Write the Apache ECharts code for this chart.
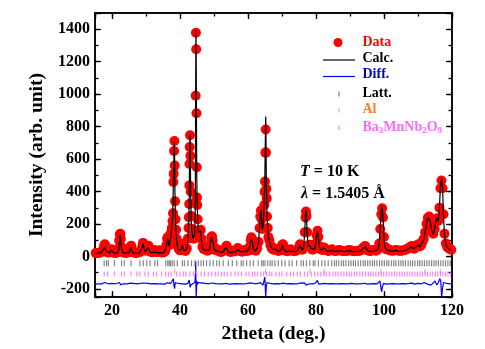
<!DOCTYPE html>
<html>
<head>
<meta charset="utf-8">
<script src="https://cdn.jsdelivr.net/npm/echarts@6/dist/echarts.min.js"></script>
<style>html,body{margin:0;padding:0;background:#fff}#c{width:485px;height:349px}</style>
</head>
<body>
<div id="c"></div>
<script>
// ---- data ----
const obsData = [[15.2,22],[15.6,21],[16.0,22],[16.4,24],[16.8,26],[17.2,32],[17.5,48],[17.7,68],[17.9,76],[18.1,62],[18.3,38],[18.6,26],[19.0,24],[19.4,28],[19.7,40],[19.9,45],[20.1,36],[20.4,25],[20.8,22],[21.2,22],[21.6,26],[21.9,48],[22.1,98],[22.3,136],[22.45,140],[22.6,108],[22.8,58],[23.1,30],[23.5,24],[24.0,22],[24.5,23],[25.0,28],[25.3,45],[25.5,62],[25.65,66],[25.8,50],[26.1,28],[26.6,23],[27.1,22],[27.6,24],[28.1,26],[28.6,34],[28.9,62],[29.1,84],[29.3,80],[29.5,50],[29.8,36],[30.3,40],[30.6,62],[30.75,66],[30.9,48],[31.3,30],[31.8,26],[32.2,30],[32.5,40],[32.8,32],[33.3,26],[33.8,32],[34.0,38],[34.3,30],[34.8,24],[35.3,26],[35.7,34],[36.0,70],[36.2,110],[36.4,120],[36.6,96],[36.8,70],[37.0,80],[37.2,110],[37.4,150],[37.6,176],[37.8,218],[37.95,267],[38.05,459],[38.15,509],[38.25,650],[38.35,711],[38.45,560],[38.55,340],[38.7,230],[38.85,165],[39.0,110],[39.3,65],[39.6,48],[40.0,38],[40.4,50],[40.7,78],[40.9,60],[41.2,40],[41.6,34],[42.0,50],[42.3,110],[42.5,176],[42.6,242],[42.7,323],[42.75,438],[42.8,570],[42.85,675],[42.95,747],[43.05,620],[43.15,400],[43.3,250],[43.5,170],[43.8,120],[44.1,110],[44.35,157],[44.5,330],[44.6,990],[44.68,1378],[44.76,1277],[44.84,883],[44.92,550],[45.0,364],[45.08,317],[45.2,230],[45.4,160],[45.6,150],[45.9,160],[46.1,165],[46.3,110],[46.6,60],[47.0,45],[47.4,55],[47.7,48],[48.1,35],[48.5,40],[48.9,80],[49.2,118],[49.4,125],[49.6,100],[49.9,60],[50.3,40],[50.8,45],[51.2,42],[51.7,30],[52.2,28],[52.7,34],[53.2,40],[53.5,58],[53.7,66],[53.9,52],[54.3,34],[54.8,28],[55.3,30],[55.8,36],[56.3,32],[56.8,44],[57.0,52],[57.3,44],[57.8,32],[58.3,30],[58.8,38],[59.2,42],[59.6,34],[60.1,36],[60.5,60],[60.8,100],[61.0,119],[61.2,108],[61.5,60],[61.9,40],[62.3,36],[62.7,50],[63.1,90],[63.4,176],[63.6,247],[63.8,283],[64.0,230],[64.2,170],[64.4,176],[64.6,247],[64.8,317],[64.9,398],[65.0,462],[65.1,640],[65.2,782],[65.3,640],[65.4,418],[65.5,358],[65.6,247],[65.8,176],[66.0,120],[66.3,100],[66.6,70],[67.0,50],[67.5,42],[68.0,50],[68.4,40],[68.9,34],[69.4,38],[69.8,50],[70.1,72],[70.3,76],[70.6,50],[71.0,36],[71.5,32],[72.0,36],[72.5,45],[73.0,36],[73.5,32],[74.0,34],[74.5,40],[75.0,60],[75.3,76],[75.6,58],[76.0,42],[76.4,60],[76.7,150],[76.9,240],[77.05,277],[77.2,250],[77.4,150],[77.7,70],[78.0,62],[78.3,72],[78.6,55],[79.0,42],[79.5,48],[79.9,80],[80.2,130],[80.45,159],[80.7,120],[81.0,65],[81.4,44],[81.9,40],[82.4,55],[82.8,46],[83.3,36],[83.8,34],[84.3,40],[84.7,45],[85.2,36],[85.7,34],[86.2,36],[86.7,40],[87.2,38],[87.7,34],[88.2,34],[88.7,36],[89.2,34],[89.7,40],[90.2,38],[90.7,34],[91.2,33],[91.7,34],[92.2,36],[92.7,34],[93.2,38],[93.7,50],[94.2,62],[94.5,65],[94.8,52],[95.2,38],[95.7,34],[96.2,34],[96.7,40],[97.2,38],[97.7,36],[98.2,44],[98.6,80],[98.9,170],[99.2,260],[99.45,297],[99.7,240],[100.0,120],[100.3,60],[100.7,44],[101.2,46],[101.7,38],[102.2,35],[102.7,36],[103.2,38],[103.7,40],[104.2,36],[104.7,35],[105.2,36],[105.7,38],[106.2,40],[106.7,46],[107.2,50],[107.7,60],[108.1,65],[108.5,52],[108.9,48],[109.3,60],[109.7,70],[110.1,75],[110.5,62],[110.9,70],[111.3,90],[111.7,110],[112.1,150],[112.5,200],[112.9,238],[113.3,246],[113.7,215],[114.1,160],[114.5,140],[114.9,170],[115.3,215],[115.7,236],[116.0,220],[116.3,300],[116.6,420],[116.9,468],[117.2,420],[117.5,260],[117.8,140],[118.2,80],[118.6,58],[119.0,52],[119.4,45],[119.8,42]];

const calcData = [[15.2,20],[16,21],[16.8,24],[17.3,30],[17.6,45],[17.8,58],[17.9,60],[18.05,52],[18.3,32],[18.7,23],[19.4,24],[19.7,34],[19.9,40],[20.1,32],[20.5,22],[21.2,20],[21.8,26],[22.0,50],[22.2,100],[22.35,130],[22.45,133],[22.6,100],[22.8,50],[23.1,26],[24,20],[24.9,22],[25.3,40],[25.5,56],[25.65,60],[25.8,44],[26.1,24],[27.1,20],[28.1,22],[28.6,30],[28.9,58],[29.1,80],[29.3,76],[29.5,44],[29.8,30],[30.3,34],[30.6,56],[30.75,62],[30.9,42],[31.3,26],[32.0,24],[32.5,36],[32.8,28],[33.5,22],[34.0,34],[34.4,24],[35.3,22],[35.8,30],[36.1,70],[36.3,110],[36.45,116],[36.6,90],[36.8,62],[37.0,70],[37.3,120],[37.5,160],[37.7,200],[37.85,250],[38.0,400],[38.15,560],[38.3,703],[38.4,640],[38.5,420],[38.65,240],[38.8,160],[39.0,100],[39.3,58],[39.6,40],[40.0,32],[40.4,44],[40.7,74],[40.9,54],[41.2,34],[41.7,30],[42.1,50],[42.35,120],[42.55,200],[42.7,340],[42.8,560],[42.9,740],[42.97,755],[43.05,600],[43.15,380],[43.3,230],[43.5,160],[43.8,110],[44.1,100],[44.35,140],[44.5,320],[44.6,1000],[44.68,1395],[44.76,1250],[44.84,860],[44.92,540],[45.0,370],[45.08,320],[45.2,220],[45.4,150],[45.6,140],[45.9,150],[46.1,158],[46.3,100],[46.6,54],[47.0,40],[47.4,50],[47.8,40],[48.3,30],[48.7,40],[49.0,90],[49.25,118],[49.45,120],[49.7,90],[50.0,52],[50.4,34],[50.9,40],[51.3,34],[52.0,24],[52.8,30],[53.3,40],[53.55,58],[53.7,62],[53.9,46],[54.3,28],[55.0,24],[55.8,30],[56.4,28],[56.9,42],[57.1,46],[57.4,36],[58.2,26],[59.0,36],[59.3,38],[59.8,30],[60.3,36],[60.6,70],[60.85,110],[61.05,118],[61.3,90],[61.6,50],[62.0,34],[62.6,44],[63.1,90],[63.4,180],[63.6,250],[63.8,285],[64.0,230],[64.2,165],[64.45,190],[64.7,300],[64.9,420],[65.05,620],[65.15,800],[65.22,862],[65.3,700],[65.4,450],[65.5,340],[65.65,230],[65.85,160],[66.1,110],[66.4,90],[66.7,62],[67.1,44],[67.6,38],[68.0,46],[68.5,34],[69.2,30],[69.8,46],[70.1,70],[70.3,72],[70.6,44],[71.1,30],[72.0,32],[72.5,42],[73.0,32],[74.0,30],[74.6,38],[75.0,56],[75.3,72],[75.6,52],[76.0,38],[76.4,60],[76.7,160],[76.9,260],[77.05,287],[77.2,250],[77.4,140],[77.7,64],[78.0,58],[78.3,66],[78.6,48],[79.1,38],[79.6,46],[79.95,85],[80.2,135],[80.45,155],[80.7,115],[81.0,60],[81.5,38],[82.0,38],[82.4,52],[82.8,42],[83.5,30],[84.3,36],[84.7,42],[85.3,32],[86.5,34],[87.2,34],[88.5,30],[89.7,36],[90.7,30],[92.2,32],[93.2,34],[93.8,48],[94.2,58],[94.5,62],[94.8,48],[95.3,34],[96.5,32],[97.2,34],[98.2,40],[98.6,80],[98.9,180],[99.2,280],[99.45,313],[99.7,245],[100.0,115],[100.3,56],[100.8,40],[101.2,42],[102.0,32],[103.5,36],[104.5,32],[105.7,34],[106.7,42],[107.3,46],[107.8,58],[108.1,62],[108.5,48],[108.9,44],[109.4,58],[109.8,68],[110.1,72],[110.5,58],[110.9,66],[111.3,86],[111.7,108],[112.1,150],[112.5,205],[112.9,240],[113.25,250],[113.6,220],[114.0,165],[114.4,136],[114.8,160],[115.2,210],[115.65,240],[116.0,215],[116.3,300],[116.6,430],[116.95,483],[117.25,410],[117.5,250],[117.8,130],[118.2,74],[118.6,54],[119.2,44],[119.8,38]];

const diffData = [[15.2,-170],[16.0,-168],[17.0,-169],[17.8,-160],[18.2,-172],[19.0,-168],[20.0,-166],[21.0,-168],[22.2,-160],[22.6,-176],[23.2,-168],[24.5,-169],[25.5,-164],[26.0,-170],[27.5,-168],[29.0,-163],[29.5,-172],[30.5,-166],[31.5,-169],[32.5,-167],[33.5,-169],[34.5,-168],[35.5,-170],[36.3,-162],[36.7,-172],[37.3,-165],[37.8,-155],[38.05,-137],[38.2,-175],[38.4,-198],[38.6,-160],[38.9,-172],[39.5,-166],[40.5,-168],[41.5,-170],[42.3,-165],[42.7,-145],[42.85,-138],[43.0,-190],[43.2,-176],[43.8,-166],[44.4,-160],[44.55,-110],[44.62,-30],[44.68,-140],[44.74,-250],[44.82,-220],[44.92,-150],[45.05,-175],[45.3,-160],[45.7,-170],[46.2,-162],[46.7,-170],[47.5,-166],[48.5,-168],[49.3,-163],[49.8,-170],[50.5,-167],[51.5,-168],[52.5,-169],[53.6,-165],[54.2,-170],[55.5,-168],[56.5,-167],[57.5,-169],[58.5,-168],[59.5,-167],[60.8,-162],[61.3,-172],[62.0,-168],[63.0,-166],[63.6,-160],[64.0,-170],[64.4,-176],[64.7,-150],[64.95,-127],[65.1,-200],[65.22,-250],[65.35,-190],[65.55,-160],[65.9,-172],[66.5,-166],[67.5,-168],[68.5,-167],[69.5,-169],[70.2,-164],[70.7,-170],[71.5,-168],[72.5,-167],[73.5,-169],[74.5,-168],[75.3,-164],[75.8,-170],[76.6,-162],[76.9,-150],[77.1,-176],[77.4,-166],[78.0,-168],[78.5,-166],[79.2,-169],[80.0,-160],[80.4,-147],[80.8,-170],[81.5,-168],[82.5,-166],[83.5,-168],[84.5,-167],[85.5,-169],[86.5,-168],[87.5,-167],[88.5,-169],[89.5,-168],[90.5,-166],[91.5,-168],[92.5,-169],[93.5,-167],[94.4,-165],[95.0,-170],[96.0,-168],[97.0,-167],[98.0,-168],[98.8,-150],[99.05,-147],[99.3,-218],[99.55,-185],[99.9,-165],[100.5,-170],[101.5,-168],[102.5,-167],[103.5,-169],[104.5,-168],[105.5,-167],[106.5,-168],[107.5,-166],[108.3,-164],[109.0,-170],[110.0,-165],[111.0,-168],[111.8,-160],[112.3,-150],[112.8,-170],[113.3,-160],[113.8,-176],[114.4,-165],[115.0,-150],[115.5,-175],[116.0,-160],[116.4,-137],[116.7,-150],[116.95,-250],[117.2,-200],[117.5,-160],[117.9,-172],[118.5,-166],[119.2,-168],[119.9,-167]];

const lattTicks = [17.7,18.4,18.9,20.7,22.8,23.6,25.6,28.2,29.2,30.2,31.2,32.6,33.4,35.8,36.4,36.8,37.2,37.7,38.3,39.2,40.7,41.3,42.3,43.4,44.4,45.4,46.2,46.9,47.8,48.8,49.8,50.8,51.6,52.7,54.2,55.4,56.7,58.0,58.6,59.6,60.6,61.6,63.0,64.0,64.5,65.0,65.8,66.5,67.1,67.9,68.9,69.9,70.9,72.1,73.0,74.3,75.6,76.3,77.2,78.2,79.2,79.7,80.7,81.7,82.6,83.6,84.6,85.4,86.0,86.7,87.5,88.1,88.8,89.6,90.3,91.0,91.6,92.4,93.1,93.9,94.5,95.2,95.9,96.6,97.2,97.9,98.7,99.4,100.1,100.8,101.4,102.2,102.9,103.5,104.3,105.0,105.6,106.3,107.1,107.8,108.4,109.1,109.9,110.5,111.2,111.9,112.6,113.3,114.0,114.7,115.3,116.0,116.7,117.4,118.1,118.8,119.5];
const alTicks = [38.47,44.74,65.13,78.23,82.44,99.08,112.04,116.57];
const phaseTicks = [17.7,18.7,20.7,22.8,23.6,25.6,27.3,28.2,29.7,30.7,32.2,33.1,34.6,35.8,36.6,37.4,39.0,40.0,41.0,41.7,42.9,43.9,44.9,46.2,47.2,48.3,49.3,50.4,51.2,52.2,53.0,53.9,55.0,56.2,57.1,58.1,59.4,60.3,61.3,62.0,62.8,63.7,64.6,65.5,66.3,67.0,68.2,69.2,70.0,71.4,72.5,73.4,74.5,75.4,76.6,77.5,78.6,79.6,80.5,81.4,82.3,83.0,83.9,85.0,85.8,86.5,87.3,88.2,89.0,89.8,90.5,91.3,92.0,92.9,93.7,94.6,95.4,96.1,96.8,97.6,98.4,99.2,99.9,100.7,101.5,102.3,103.1,103.8,104.6,105.3,106.1,106.8,107.6,108.3,109.1,109.8,110.6,111.3,112.1,112.8,113.6,114.3,115.1,115.8,116.6,117.3,118.1,118.8,119.6];
const lattRow = -42, alRow = -92, phaseRow = -108;

const X_MIN = 15, X_MAX = 120, Y_MIN = -250, Y_MAX = 1500;

// ---- styling ----
const FONT = 'Liberation Serif';
const labelStyle = {fontFamily: FONT, fontWeight: 'bold', fontSize: 16, color: '#000'};
function xAx(pos, split, len, labels, name) {
  return {
    type: 'value', position: pos, min: X_MIN, max: X_MAX, splitNumber: split,
    axisLine: {show: true, onZero: false, lineStyle: {color: '#000', width: 1.5}},
    axisTick: {show: true, inside: true, length: len, lineStyle: {color: '#000', width: 1.3}},
    axisLabel: labels ? Object.assign({margin: 6, formatter: v => (v % 20 === 0 ? String(v) : '')}, labelStyle) : {show: false},
    splitLine: {show: false},
    name: name || '', nameLocation: 'middle', nameGap: 20,
    nameTextStyle: {fontFamily: FONT, fontWeight: 'bold', fontSize: 19.5, color: '#000'}
  };
}
function yAx(pos, split, len, labels, name) {
  return {
    type: 'value', position: pos, min: Y_MIN, max: Y_MAX, splitNumber: split,
    axisLine: {show: true, onZero: false, lineStyle: {color: '#000', width: 1.5}},
    axisTick: {show: true, inside: true, length: len, lineStyle: {color: '#000', width: 1.3}},
    axisLabel: labels ? Object.assign({margin: 5, formatter: v => (v % 200 === 0 ? String(v) : '')}, labelStyle) : {show: false},
    splitLine: {show: false},
    name: name || '', nameLocation: 'middle', nameGap: 47, nameRotate: 90,
    nameTextStyle: {fontFamily: FONT, fontWeight: 'bold', fontSize: 19.5, color: '#000'}
  };
}

const chart = echarts.init(document.getElementById('c'), null, {renderer: 'canvas'});
const tickSeries = (name, ticks, row, color, h) => ({
  name, type: 'scatter', xAxisIndex: 0, yAxisIndex: 0, symbol: 'rect', symbolSize: [1.2, h],
  itemStyle: {color}, data: ticks.map(t => [t, row]), silent: true, z: 4
});

const legendX = 362.5;
const txt = (y, text, color) => ({type: 'text', x: legendX, y, style: {text, fill: color, font: 'bold 14px "Liberation Serif"', verticalAlign: 'middle'}});

chart.setOption({
  animation: false,
  backgroundColor: '#fff',
  grid: {left: 95, right: 33, top: 13, bottom: 48, containLabel: false},
  xAxis: [xAx('bottom', 5, 6, true, '2theta (deg.)'), xAx('bottom', 10, 3.5, false), xAx('top', 5, 6, false), xAx('top', 10, 3.5, false)],
  yAxis: [yAx('left', 8, 6, true, 'Intensity (arb. unit)'), yAx('left', 17, 3.5, false), yAx('right', 8, 6, false), yAx('right', 17, 3.5, false)],
  series: [
    {name: 'Data', type: 'scatter', xAxisIndex: 0, yAxisIndex: 0, symbol: 'circle', symbolSize: 10,
     itemStyle: {color: '#ff0000', opacity: 1}, data: obsData, z: 2, silent: true},
    {name: 'Calc.', type: 'line', xAxisIndex: 0, yAxisIndex: 0, showSymbol: false, symbol: 'none',
     lineStyle: {color: '#000', width: 1.2}, data: calcData, z: 3, silent: true},
    {name: 'Diff.', type: 'line', xAxisIndex: 0, yAxisIndex: 0, showSymbol: false, symbol: 'none',
     lineStyle: {color: '#0000ff', width: 1.2}, data: diffData, z: 3, silent: true},
    tickSeries('Latt.', lattTicks, lattRow, '#666666', 6),
    tickSeries('Al', alTicks, alRow, '#ff9090', 5),
    tickSeries('Ba3MnNb2O9', phaseTicks, phaseRow, '#ff66ff', 5)
  ],
  graphic: [
    {type: 'circle', shape: {cx: 338, cy: 42.5, r: 4.5}, style: {fill: '#ff0000'}},
    {type: 'line', shape: {x1: 323, y1: 60, x2: 355, y2: 60}, style: {stroke: '#000', lineWidth: 1.2}},
    {type: 'line', shape: {x1: 323, y1: 76.5, x2: 355, y2: 76.5}, style: {stroke: '#0000ff', lineWidth: 1.2}},
    {type: 'rect', shape: {x: 338.5, y: 91.5, width: 1, height: 5}, style: {fill: '#666666'}},
    {type: 'rect', shape: {x: 338.5, y: 108, width: 1, height: 4.5}, style: {fill: '#ff9090'}},
    {type: 'rect', shape: {x: 338.5, y: 125.5, width: 1, height: 4.5}, style: {fill: '#ff66ff'}},
    txt(42.5, 'Data', '#ff0000'),
    txt(58.5, 'Calc.', '#000000'),
    txt(74.5, 'Diff.', '#0000cc'),
    txt(93, 'Latt.', '#000000'),
    txt(109.5, 'Al', '#ff7f27'),
    {type: 'text', x: legendX, y: 127, style: {
      text: '{a|Ba}{s|3}{a|MnNb}{s|2}{a|O}{s|9}', verticalAlign: 'middle', fill: '#ff66ff',
      rich: {a: {font: 'bold 14px "Liberation Serif"', fill: '#ff66ff', lineHeight: 16},
             s: {font: 'bold 9px "Liberation Serif"', fill: '#ff66ff', lineHeight: 2, verticalAlign: 'bottom'}}}},
    {type: 'text', x: 300, y: 172, style: {
      text: '{i|T}{n| = 10 K}', verticalAlign: 'middle',
      rich: {i: {font: 'italic bold 16px "Liberation Serif"', fill: '#000'}, n: {font: 'bold 16px "Liberation Serif"', fill: '#000'}}}},
    {type: 'text', x: 301, y: 194, style: {
      text: '{i|λ}{n| = 1.5405 Å}', verticalAlign: 'middle',
      rich: {i: {font: 'italic bold 16px "Liberation Serif"', fill: '#000'}, n: {font: 'bold 16px "Liberation Serif"', fill: '#000'}}}}
  ]
});
</script>
</body>
</html>
